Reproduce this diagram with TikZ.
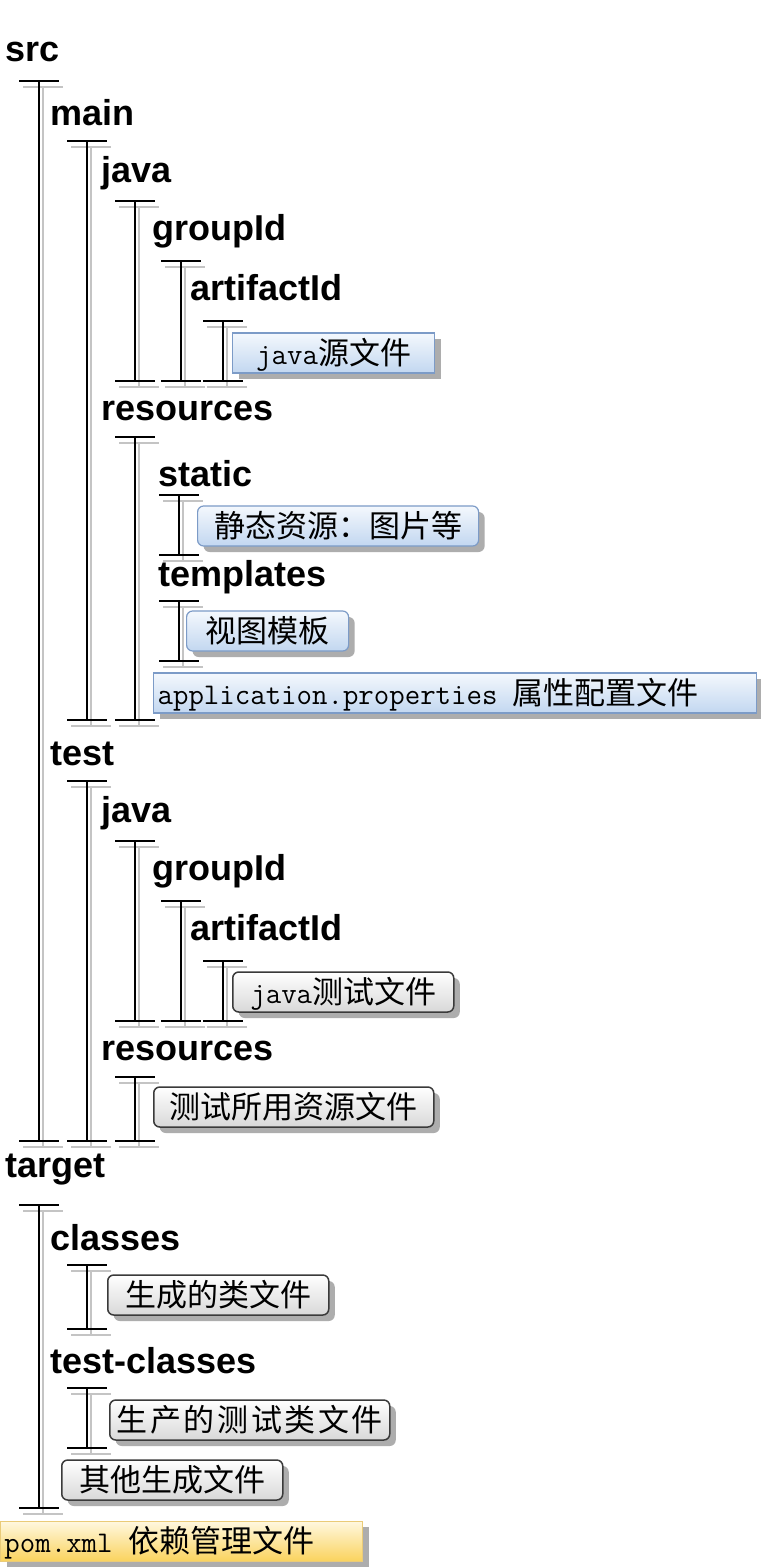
\documentclass[tikz,border=0pt]{standalone}
\usepackage{fontspec}
\usetikzlibrary{shadows}
\newfontfamily\lblfont{Liberation Sans}
\newfontfamily\cjkfont{Noto Sans CJK SC}
\newcommand\asc[1]{{\fontsize{30}{36}\ttfamily #1}}
\definecolor{blueTop}{HTML}{F4F8FD}
\definecolor{blueBot}{HTML}{C2D7F0}
\definecolor{blueEdge}{HTML}{7C9BC7}
\definecolor{greyBot}{HTML}{D8D8D8}
\definecolor{greyEdge}{HTML}{3A3A3A}
\definecolor{yelTop}{HTML}{FFF8E0}
\definecolor{yelBot}{HTML}{FAD35E}
\definecolor{yelEdge}{HTML}{EACB78}
\definecolor{beamShadow}{HTML}{C4C4C4}
\tikzset{
	dir/.style={anchor=base west, inner sep=0pt, font=\lblfont\bfseries\fontsize{36}{40}\selectfont},
	filebox/.style={anchor=west, inner xsep=4pt, inner ysep=0pt, minimum height=40pt,
		text height=27pt, text depth=4pt, font=\cjkfont\fontsize{31}{36}\selectfont,
		drop shadow={shadow xshift=6pt, shadow yshift=-6pt, fill=black!32, opacity=1}},
	bluebox/.style={filebox, draw=blueEdge, line width=1.2pt, top color=blueTop, bottom color=blueBot},
	greybox/.style={filebox, draw=greyEdge, line width=1.5pt, rounded corners=6pt, top color=white, bottom color=greyBot},
	yelbox/.style={filebox, draw=yelEdge, line width=1pt, top color=yelTop, bottom color=yelBot},
	beam/.style={line width=2pt}
}
\begin{document}
\begin{tikzpicture}[x=1pt, y=-1pt]
		\useasboundingbox[fill=white] (0,0) rectangle (760,1568);

		\def\bar{20}
		\foreach \x/\t/\b in {
			39/81/1141,
			87/141/720,
			135/201/381,
			181/261/381,
			223/321/381,
			135/437/720,
			179/495/555,
			179/601/661,
			87/781/1141,
			135/841/1021,
			181/901/1021,
			223/961/1021,
			135/1077/1141,
			39/1205/1508,
			87/1265/1329,
			87/1388/1448
		} {
			\draw[beam, beamShadow] (\x+4,\t+6) -- (\x+4,\b+6)
				(\x-\bar+4,\t+6) -- (\x+\bar+4,\t+6)
				(\x-\bar+4,\b+6) -- (\x+\bar+4,\b+6);
		}
		\foreach \x/\t/\b in {
			39/81/1141,
			87/141/720,
			135/201/381,
			181/261/381,
			223/321/381,
			135/437/720,
			179/495/555,
			179/601/661,
			87/781/1141,
			135/841/1021,
			181/901/1021,
			223/961/1021,
			135/1077/1141,
			39/1205/1508,
			87/1265/1329,
			87/1388/1448
		} {
			\draw[beam] (\x,\t) -- (\x,\b)
				(\x-\bar,\t) -- (\x+\bar,\t)
				(\x-\bar,\b) -- (\x+\bar,\b);
		}

		\node[dir] (src) at (5,62) {src};
		\node[dir] (main) at (50,126) {main};
		\node[dir] (mjava) at (101,182) {java};
		\node[dir] (mgroup) at (152,240) {groupId};
		\node[dir] (martifact) at (190,300) {artifactId};
		\node[bluebox, minimum width=202pt] (msrcfile) at (232,353) {\asc{java}源文件};
		\node[dir] (mres) at (101,420) {resources};
		\node[dir] (static) at (158,486) {static};
		\node[bluebox, rounded corners=6pt, minimum width=281pt] (staticfile) at (197,526) {静态资源：图片等};
		\node[dir] (templates) at (158,586) {templates};
		\node[bluebox, rounded corners=6pt, minimum width=162pt] (tplfile) at (186,631) {视图模板};
		\node[bluebox] (props) at (153,693) {\makebox[595pt][l]{\asc{application.properties }属性配置文件}};

		\node[dir] (test) at (50,765) {test};
		\node[dir] (tjava) at (101,822) {java};
		\node[dir] (tgroup) at (152,880) {groupId};
		\node[dir] (tartifact) at (190,940) {artifactId};
		\node[greybox, minimum width=221pt] (ttestfile) at (232,992) {\asc{java}测试文件};
		\node[dir] (tres) at (101,1060) {resources};
		\node[greybox, minimum width=280pt] (tresfile) at (153,1107) {测试所用资源文件};

		\node[dir] (target) at (5,1177) {target};
		\node[dir] (classes) at (50,1250) {classes};
		\node[greybox, minimum width=221pt] (classfile) at (107,1295) {生成的类文件};
		\node[dir] (testclasses) at (50,1373) {test-classes};
		\node[greybox, minimum width=280pt] (testclassfile) at (109,1420) {\addfontfeature{LetterSpace=8.5}生产的测试类文件};
		\node[greybox, minimum width=221pt] (otherfile) at (61,1480) {其他生成文件};

		\node[yelbox] (pom) at (0,1541) {\makebox[354pt][l]{\asc{pom.xml }依赖管理文件}};
\end{tikzpicture}
\end{document}
